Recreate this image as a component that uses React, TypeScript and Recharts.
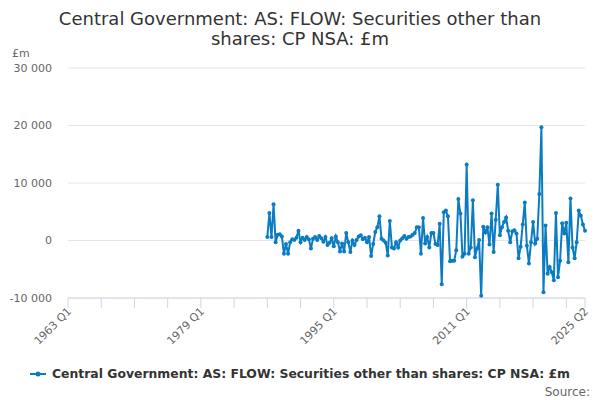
import React from 'react';
import { LineChart, Line, XAxis, YAxis, CartesianGrid } from 'recharts';

// quarterly categories 1963 Q1 .. 2025 Q2
const quarters: string[] = [];
for (let y = 1963; y <= 2025; y++) {
  for (let q = 1; q <= 4; q++) {
    if (y === 2025 && q > 2) break;
    quarters.push(`${y} Q${q}`);
  }
}

const firstQuarter = '1987 Q1';

// £m, 1987 Q1 onwards
const flowValues = [
  600, 4800, 600, 6300, -300, 1000, 1100, 700, -2300, -600,
  -2300, -300, 200, 100, 500, 1700, -300, 500, 100, 600,
  200, -1400, 300, 600, 100, 800, 400, -200, 600, -800,
  -400, 400, -1000, 700, -300, -1900, -500, -1900, 1300, -300,
  -2000, 0, -800, 100, 700, 900, 200, 500, -300, 600,
  -2700, -600, 1500, 2300, 4200, 300, 0, -400, -2600, 3400,
  -1200, -1400, -300, -1200, 0, 400, 800, 300, 600, 700,
  1000, 1300, 2300, 2300, -2300, 3900, -500, 600, -1200, 1300,
  1300, -600, -800, 2900, -7600, 4900, 5200, 4200, -3600, -3500,
  -3500, -1700, 7200, 4700, -2800, -2300, 13200, -2300, -1200, 7000,
  -2900, -1400, 100, -9600, 2400, 1400, 2300, -700, 4700, -2000,
  3600, 9700, 900, 2300, 3200, 4000, 1700, -300, 1600, 1800,
  1200, -3100, -1100, 2800, 6600, -900, -4000, -300, 3200, -500,
  300, 8100, 19700, -9000, 2600, -5800, -4600, -5500, -6900, 4800,
  -6400, -3500, 3000, 1200, 3100, -3800, 7300, -1200, -3100, -300,
  5200, 4300, 2800, 1700,
];

const xTicks = [
  '1963 Q1', '1967 Q1', '1971 Q1', '1975 Q1', '1979 Q1', '1983 Q1',
  '1987 Q1', '1991 Q1', '1995 Q1', '1999 Q1', '2003 Q1', '2007 Q1',
  '2011 Q1', '2015 Q1', '2019 Q1', '2023 Q1', '2025 Q2',
];
const xLabels = ['1963 Q1', '1979 Q1', '1995 Q1', '2011 Q1', '2025 Q2'];
const yTicks = [-10000, 0, 10000, 20000, 30000];

const SERIES = 'Central Government: AS: FLOW: Securities other than shares: CP NSA: £m';
const BLUE = '#0b7cc2';
const FONT = '"DejaVu Sans", sans-serif';

const start = quarters.indexOf(firstQuarter);
const data = quarters.map((q, i) => ({
  q,
  v: i >= start && i - start < flowValues.length ? flowValues[i - start] : null,
}));

const fmt = (v: number) => {
  const s = String(Math.abs(v)).replace(/\B(?=(\d{3})+(?!\d))/g, ' ');
  return v < 0 ? `-${s}` : s;
};

function QuarterTick(props: any) {
  const { x, y, payload } = props;
  const show = xLabels.includes(payload.value);
  const tx = x + 4;
  const ty = y + 14;
  return (
    <g>
      <line x1={x} x2={x} y1={y} y2={y + 10} stroke="#ccd6eb" />
      {show && (
        <text
          x={tx}
          y={ty}
          transform={`rotate(-45 ${tx} ${ty})`}
          textAnchor="end"
          fontSize={11}
          fill="#666"
          fontFamily={FONT}
        >
          {payload.value}
        </text>
      )}
    </g>
  );
}

export default function App() {
  return (
    <div style={{ position: 'absolute', left: 0, top: 0, width: 600, height: 400, fontFamily: FONT }}>
      <div
        style={{
          position: 'absolute',
          top: 9,
          left: 0,
          width: 600,
          textAlign: 'center',
          fontSize: 18,
          lineHeight: '20px',
          color: '#333',
        }}
      >
        Central Government: AS: FLOW: Securities other than
        <br />
        shares: CP NSA: £m
      </div>
      <div style={{ position: 'absolute', top: 47, left: 12, fontSize: 11, color: '#666' }}>£m</div>
      <LineChart width={600} height={400} data={data} margin={{ top: 68, right: 15, bottom: 72, left: 8 }}>
        <CartesianGrid vertical={false} stroke="#e6e6e6" />
        <XAxis
          dataKey="q"
          ticks={xTicks}
          interval={0}
          tick={<QuarterTick />}
          tickLine={false}
          tickSize={0}
          tickMargin={0}
          height={30}
          axisLine={{ stroke: '#ccd6eb' }}
        />
        <YAxis
          domain={[-10000, 30000]}
          ticks={yTicks}
          tickFormatter={fmt}
          width={60}
          axisLine={false}
          tickLine={false}
          tickMargin={10}
          tick={{ fontSize: 11, fill: '#666', fontFamily: FONT }}
        />
        <Line
          dataKey="v"
          stroke={BLUE}
          strokeWidth={2}
          dot={{ r: 2, fill: BLUE, stroke: BLUE, strokeWidth: 0 }}
          activeDot={false}
          isAnimationActive={false}
        />
      </LineChart>
      <div
        style={{
          position: 'absolute',
          top: 366,
          left: 0,
          width: 600,
          display: 'flex',
          justifyContent: 'center',
          alignItems: 'center',
          fontSize: 12.4,
          fontWeight: 'bold',
          color: '#333',
        }}
      >
        <svg width={16} height={10} style={{ marginRight: 6 }}>
          <line x1={0} x2={16} y1={5} y2={5} stroke={BLUE} strokeWidth={2} />
          <circle cx={8} cy={5} r={2.5} fill={BLUE} />
        </svg>
        {SERIES}
      </div>
      <div style={{ position: 'absolute', top: 385, right: 10, fontSize: 12, color: '#666' }}>Source:</div>
    </div>
  );
}
